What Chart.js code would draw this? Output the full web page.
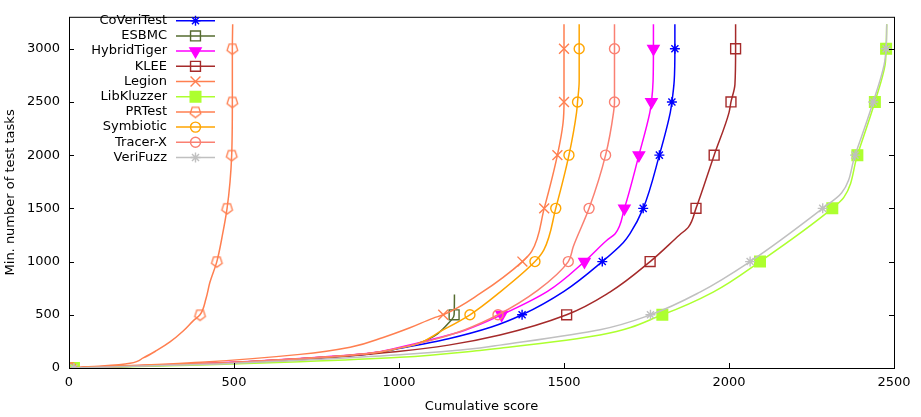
<!DOCTYPE html>
<html>
<head>
<meta charset="utf-8">
<script src="https://cdn.jsdelivr.net/npm/chart.js@4.4.0/dist/chart.umd.min.js"></script>
<style>
  html, body { margin: 0; padding: 0; background: #fff; }
  #wrap { width: 921px; height: 417px; }
</style>
</head>
<body>
<div id="wrap"><canvas id="quantileChart" width="921" height="417"></canvas></div>
<script>
// values: cumulative score (x) against min. number of test tasks (y)
const xTicks = [0, 500, 1000, 1500, 2000, 2500];
const yTicks = [0, 500, 1000, 1500, 2000, 2500, 3000];

const coveritestScore = [5, 400, 700, 902, 1003, 1150, 1280, 1373, 1500, 1616, 1680, 1700, 1740, 1789, 1822, 1827, 1834, 1836, 1836];
const coveritestTasks = [0, 38, 86, 130, 185, 275, 385, 500, 720, 1000, 1180, 1262, 1500, 2000, 2400, 2500, 2700, 3000, 3230];

const esbmcScore = [5, 400, 700, 902, 1003, 1054, 1160, 1167, 1168];
const esbmcTasks = [0, 40, 88, 134, 189, 226, 455, 500, 690];

const hybridtigerScore = [5, 400, 700, 902, 1003, 1100, 1200, 1311, 1450, 1562, 1630, 1655, 1683, 1727, 1760, 1765, 1770, 1771, 1771];
const hybridtigerTasks = [0, 42, 90, 136, 195, 268, 355, 500, 720, 1000, 1200, 1262, 1500, 2000, 2400, 2500, 2700, 3000, 3230];

const kleeScore = [5, 400, 700, 1003, 1150, 1306, 1508, 1639, 1761, 1850, 1877, 1900, 1955, 2000, 2006, 2018, 2020, 2020];
const kleeTasks = [0, 35, 78, 158, 215, 310, 500, 713, 1000, 1250, 1324, 1500, 2000, 2400, 2500, 2665, 3000, 3230];

const legionScore = [8, 400, 700, 852, 952, 1033, 1104, 1134, 1245, 1374, 1402, 1440, 1480, 1497, 1500, 1500, 1500];
const legionTasks = [0, 55, 128, 195, 287, 378, 469, 500, 698, 1000, 1095, 1500, 2000, 2300, 2500, 3000, 3230];

const libkluzzerScore = [15, 400, 700, 1003, 1245, 1306, 1609, 1798, 1952, 2094, 2313, 2348, 2389, 2442, 2473, 2476, 2478];
const libkluzzerTasks = [0, 28, 58, 100, 165, 185, 310, 500, 713, 1000, 1500, 1603, 2000, 2500, 2848, 3000, 3230];

const prtestScore = [5, 100, 185, 225, 266, 306, 346, 377, 397, 415, 427, 448, 465, 479, 488, 493, 495, 495, 496];
const prtestTasks = [0, 18, 45, 95, 165, 245, 348, 445, 500, 650, 805, 1000, 1250, 1500, 1750, 2000, 2500, 3000, 3230];

const symbioticScore = [8, 400, 700, 902, 1003, 1054, 1124, 1215, 1306, 1412, 1439, 1475, 1515, 1538, 1541, 1546, 1546, 1546];
const symbioticTasks = [0, 40, 88, 134, 189, 226, 341, 500, 713, 1000, 1110, 1500, 2000, 2400, 2500, 2700, 3000, 3230];

const tracerxScore = [5, 400, 700, 902, 1003, 1100, 1200, 1300, 1420, 1513, 1528, 1576, 1626, 1650, 1653, 1653, 1653];
const tracerxTasks = [0, 40, 88, 134, 189, 262, 360, 500, 730, 1000, 1140, 1500, 2000, 2400, 2500, 3000, 3230];

const verifuzzScore = [15, 400, 700, 1003, 1245, 1306, 1609, 1762, 1912, 2064, 2284, 2341, 2382, 2437, 2470, 2476, 2478];
const verifuzzTasks = [0, 32, 73, 125, 189, 215, 360, 500, 713, 1000, 1500, 1644, 2000, 2500, 2848, 3000, 3230];

const MARK_EVERY = 500;
const FONT = '"DejaVu Sans", sans-serif';
const FONT_SIZE = 13;

function pentagonMarker(color) {
  const c = document.createElement("canvas");
  c.width = 15;
  c.height = 15;
  const g = c.getContext("2d");
  g.strokeStyle = color;
  g.lineWidth = 1.3;
  g.beginPath();
  for (let i = 0; i < 5; i++) {
    const a = Math.PI / 2 + (i * 2 * Math.PI) / 5;
    const px = 7.5 + 5.6 * Math.cos(a);
    const py = 7.5 + 5.6 * Math.sin(a);
    if (i === 0) g.moveTo(px, py);
    else g.lineTo(px, py);
  }
  g.closePath();
  g.stroke();
  return c;
}

const series = [
  { label: "CoVeriTest", score: coveritestScore, tasks: coveritestTasks, color: "#0000ff", style: "star", radius: 5, fill: false },
  { label: "ESBMC", score: esbmcScore, tasks: esbmcTasks, color: "#556b2f", style: "rect", radius: 7, fill: false },
  { label: "HybridTiger", score: hybridtigerScore, tasks: hybridtigerTasks, color: "#ff00ff", style: "triangle", radius: 6.5, fill: true, rotation: 180 },
  { label: "KLEE", score: kleeScore, tasks: kleeTasks, color: "#a52a2a", style: "rect", radius: 7, fill: false },
  { label: "Legion", score: legionScore, tasks: legionTasks, color: "#ff7f50", style: "crossRot", radius: 7, fill: false },
  { label: "LibKluzzer", score: libkluzzerScore, tasks: libkluzzerTasks, color: "#adff2f", style: "rect", radius: 7.5, fill: true },
  { label: "PRTest", score: prtestScore, tasks: prtestTasks, color: "#ff7f50", style: "pentagon", radius: 6, fill: false },
  { label: "Symbiotic", score: symbioticScore, tasks: symbioticTasks, color: "#ffa500", style: "circle", radius: 5, fill: false },
  { label: "Tracer-X", score: tracerxScore, tasks: tracerxTasks, color: "#fa8072", style: "circle", radius: 5, fill: false },
  { label: "VeriFuzz", score: verifuzzScore, tasks: verifuzzTasks, color: "#c0c0c0", style: "star", radius: 5, fill: false },
];

const datasets = series.map((s, i) => ({
  label: s.label,
  data: s.score.map((x, k) => ({ x: x, y: s.tasks[k] })),
  borderColor: s.color,
  borderWidth: 1.5,
  backgroundColor: s.color,
  pointStyle: s.style === "pentagon" ? pentagonMarker(s.color) : s.style,
  pointRotation: s.rotation || 0,
  pointBorderColor: s.color,
  pointBackgroundColor: s.fill ? s.color : "rgba(0,0,0,0)",
  pointBorderWidth: 1.4,
  pointRadius: (ctx) => (ctx.raw && ctx.raw.y % MARK_EVERY === 0 ? s.radius : 0),
  pointHoverRadius: 0,
  cubicInterpolationMode: "monotone",
  fill: false,
  order: series.length - i,
  markerRadius: s.radius,
}));

const framePlugin = {
  id: "frame",
  afterDatasetsDraw(chart) {
    const { ctx, chartArea: a, scales } = chart;
    ctx.save();
    ctx.strokeStyle = "#000";
    ctx.lineWidth = 1;
    ctx.strokeRect(a.left + 0.5, a.top + 0.5, a.right - a.left, a.bottom - a.top);
    ctx.beginPath();
    yTicks.forEach((v) => {
      const py = Math.round(scales.y.getPixelForValue(v)) + 0.5;
      ctx.moveTo(a.left, py);
      ctx.lineTo(a.left + 5, py);
      ctx.moveTo(a.right, py);
      ctx.lineTo(a.right - 5, py);
    });
    xTicks.forEach((v) => {
      const px = Math.round(scales.x.getPixelForValue(v)) + 0.5;
      ctx.moveTo(px, a.bottom);
      ctx.lineTo(px, a.bottom - 5);
    });
    ctx.stroke();

    // legend in the top-left corner
    ctx.font = FONT_SIZE + "px " + FONT;
    ctx.textAlign = "right";
    ctx.textBaseline = "middle";
    chart.data.datasets.forEach((ds, i) => {
      const y = 20.7 + i * 15.2;
      ctx.fillStyle = "#000";
      ctx.fillText(ds.label, 167, y);
      ctx.strokeStyle = ds.borderColor;
      ctx.lineWidth = 1.5;
      ctx.beginPath();
      ctx.moveTo(176, y);
      ctx.lineTo(215, y);
      ctx.stroke();
      ctx.fillStyle = ds.pointBackgroundColor;
      ctx.lineWidth = ds.pointBorderWidth;
      Chart.helpers.drawPoint(
        ctx,
        { pointStyle: ds.pointStyle, rotation: ds.pointRotation, radius: ds.markerRadius, borderWidth: ds.pointBorderWidth },
        195.5,
        y
      );
    });
    ctx.restore();
  },
};

const quantileChart = new Chart(document.getElementById("quantileChart"), {
  type: "line",
  data: { datasets: datasets },
  plugins: [framePlugin],
  options: {
    responsive: false,
    animation: false,
    indexAxis: "y",
    layout: { padding: { left: 0, right: 27, top: 0, bottom: 0 } },
    plugins: { legend: { display: false }, tooltip: { enabled: false } },
    scales: {
      x: {
        type: "linear",
        min: 0,
        max: 2500,
        afterBuildTicks: (s) => { s.ticks = xTicks.map((v) => ({ value: v })); },
        afterFit: (s) => { s.height = 49; },
        grid: { display: false, drawTicks: false },
        border: { display: false },
        ticks: { color: "#000", padding: 7, maxRotation: 0, callback: (v) => String(v), font: { family: FONT, size: FONT_SIZE } },
        title: { display: true, text: "Cumulative score", color: "#000", padding: { top: 0, bottom: 3 }, font: { family: FONT, size: FONT_SIZE } },
      },
      y: {
        type: "linear",
        min: 0,
        max: 3300,
        afterBuildTicks: (s) => { s.ticks = yTicks.map((v) => ({ value: v })); },
        afterFit: (s) => { s.width = 69; },
        grid: { display: false, drawTicks: false },
        border: { display: false },
        ticks: { color: "#000", padding: 9, callback: (v) => String(v), font: { family: FONT, size: FONT_SIZE } },
        title: { display: true, text: "Min. number of test tasks", color: "#000", padding: { top: 3, bottom: 0 }, font: { family: FONT, size: FONT_SIZE } },
      },
    },
  },
});
</script>
</body>
</html>
